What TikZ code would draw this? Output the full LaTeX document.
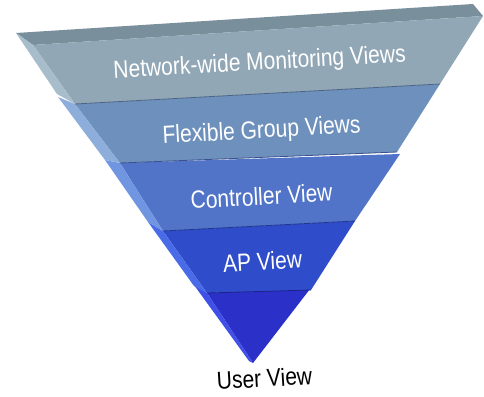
\documentclass[tikz,border=0pt]{standalone}
\usepackage{fontspec}
\setmainfont{Liberation Sans}
\definecolor{topA}{HTML}{7A8F9C}
\definecolor{frontA}{HTML}{91A7B6}
\definecolor{sideA}{HTML}{A8BDCB}
\definecolor{frontB}{HTML}{6D90BD}
\definecolor{sideB}{HTML}{8DAEDB}
\definecolor{frontC}{HTML}{5174C8}
\definecolor{sideC}{HTML}{7096E2}
\definecolor{frontD}{HTML}{2F4DCB}
\definecolor{sideD}{HTML}{4A6BE8}
\definecolor{frontE}{HTML}{2A30C8}
\definecolor{sideE}{HTML}{4050E6}
\tikzset{
  layerlabel/.style={text=white, font=\fontsize{21}{21}\selectfont, anchor=base, rotate=3.2, yscale=1.18, inner sep=0pt},
  baselabel/.style={text=black, font=\fontsize{21}{21}\selectfont, anchor=base, rotate=3.5, yscale=1.18, inner sep=0pt},
  seam/.style={line width=0.8pt}
}
\begin{document}
\begin{tikzpicture}[x=1pt,y=-1pt]
\useasboundingbox (0,0) rectangle (484,396);
\fill[white] (0,0) rectangle (484,396);
% layer 5 (tip)
\fill[frontE] (207,293) -- (310,289) -- (253,363) -- cycle;
\fill[sideE] (194,285) -- (207,293) -- (253,363) -- (249,361) -- cycle;
% layer 4
\fill[frontD] (163,231) -- (355,221) -- (311,290) -- (207,293) -- cycle;
\fill[sideD] (148,222) -- (163,231) -- (207,293) -- (194,286) -- cycle;
\draw[seam, frontE!70!black] (207,293) -- (311,290);
% layer 3
\fill[frontC] (120,163) -- (400,154) -- (355,221) -- (163,231) -- cycle;
\fill[sideC] (105,160) -- (120,163) -- (163,231) -- (148,222) -- cycle;
\draw[seam, frontD!70!black] (163,231) -- (355,221);
% layer 2
\fill[frontB] (75,104) -- (440,84) -- (397,152) -- (120,163) -- cycle;
\fill[sideB] (58,97) -- (75,104) -- (120,163) -- (105,160) -- cycle;
\draw[seam, frontC!70!black] (120,163) -- (397,152);
% layer 1
\fill[topA] (16,33) -- (473,4) -- (483,16) -- (33,45) -- cycle;
\fill[frontA] (33,45) -- (483,16) -- (440,84) -- (75,104) -- cycle;
\fill[sideA] (16,33) -- (33,45) -- (75,104) -- (57,94) -- cycle;
\draw[seam, frontB!70!black] (75,104) -- (440,84);
% labels
\node[layerlabel] (nw) at (260,70) {Network-wide Monitoring Views};
\node[layerlabel] (fg) at (262,138) {Flexible Group Views};
\node[layerlabel] (cv) at (262,205) {Controller View};
\node[layerlabel] (ap) at (263,270) {AP View};
\node[baselabel] (uv) at (265,387) {User View};
\end{tikzpicture}
\end{document}
